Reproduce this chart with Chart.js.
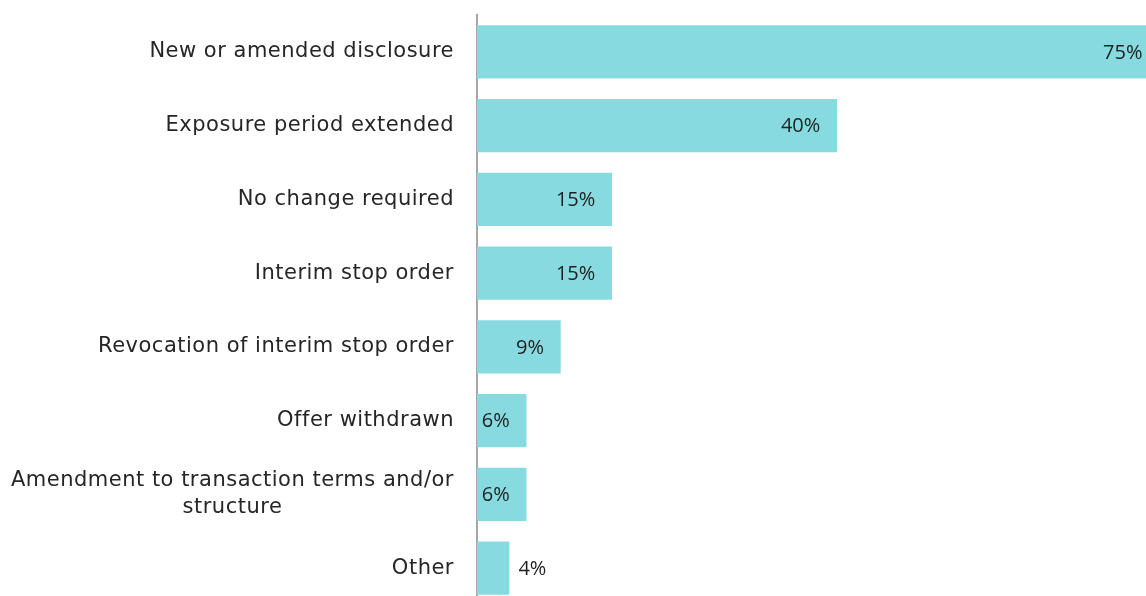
<!DOCTYPE html>
<html><head><meta charset="utf-8">
<script src="https://cdn.jsdelivr.net/npm/chart.js@4/dist/chart.umd.min.js"></script>
<style>
html,body{margin:0;padding:0;overflow:hidden;background:#fff;width:1146px;height:596px}
#wrap{position:absolute;left:0;top:0;width:1179px;height:605px}
</style></head>
<body><div id="wrap"><canvas id="c" width="1179" height="605"></canvas></div>
<script>
const categories = [
  ['New or amended disclosure'],
  ['Exposure period extended'],
  ['No change required'],
  ['Interim stop order'],
  ['Revocation of interim stop order'],
  ['Offer withdrawn'],
  ['Amendment to transaction terms and/or', 'structure'],
  ['Other']
];
const values = [75.8, 40, 15, 15, 9.3, 5.5, 5.5, 3.6];
const valueLabels = ['75%', '40%', '15%', '15%', '9%', '6%', '6%', '4%'];

const BAR = '#87dbe0';
const TEXT = '#262626';
const CAT_FONT = '21px "DejaVu Sans"';
const VAL_FONT = '20px "Open Sans"';

const labelPlugin = {
  id: 'labels',
  afterDatasetsDraw(chart) {
    const ctx = chart.ctx;
    const ys = chart.scales.y;
    const xs = chart.scales.x;
    ctx.save();
    ctx.fillStyle = TEXT;
    ctx.textBaseline = 'middle';
    // category labels
    ctx.font = CAT_FONT;
    if ('letterSpacing' in ctx) ctx.letterSpacing = '0.5px';
    const rightEdge = chart.chartArea.left - 23;
    categories.forEach((lines, i) => {
      const y = ys.getPixelForValue(i);
      const lh = 27;
      if (lines.length === 1) {
        ctx.textAlign = 'right';
        ctx.fillText(lines[0], rightEdge, y);
      } else {
        const widest = Math.max(...lines.map(l => ctx.measureText(l).width));
        const cx = rightEdge - widest / 2;
        ctx.textAlign = 'center';
        lines.forEach((l, k) => {
          ctx.fillText(l, cx, y + (k - (lines.length - 1) / 2) * lh);
        });
      }
    });
    if ('letterSpacing' in ctx) ctx.letterSpacing = '0px';
    // value labels
    ctx.font = VAL_FONT;
    ctx.fillStyle = '#1f1f1f';
    const meta = chart.getDatasetMeta(0);
    meta.data.forEach((bar, i) => {
      const txt = valueLabels[i];
      const w = ctx.measureText(txt).width;
      const x0 = xs.getPixelForValue(0);
      const x1 = xs.getPixelForValue(values[i]);
      const pad = 16.7;
      if (x1 - x0 >= w + pad + 3) {
        ctx.textAlign = 'right';
        ctx.fillText(txt, x1 - pad, bar.y + 1);
      } else {
        ctx.textAlign = 'left';
        ctx.fillText(txt, x1 + 9, bar.y + 1);
      }
    });
    ctx.restore();
  }
};

new Chart(document.getElementById('c'), {
  type: 'bar',
  data: {
    labels: categories.map(c => c.join(' ')),
    datasets: [{
      data: values,
      backgroundColor: BAR,
      borderWidth: 0,
      barPercentage: 0.72,
      categoryPercentage: 1
    }]
  },
  options: {
    indexAxis: 'y',
    responsive: false,
    animation: false,
    layout: { padding: { top: 15, left: 0, right: 0, bottom: 0 } },
    plugins: { legend: { display: false }, tooltip: { enabled: false } },
    scales: {
      x: { display: false, min: 0, max: 78 },
      y: {
        grid: { display: false, drawTicks: false },
        border: { display: true, color: '#a6a6a6', width: 2 },
        ticks: { display: false },
        afterFit(scale) { scale.width = 477; }
      }
    }
  },
  plugins: [labelPlugin]
});
</script>
</body></html>
